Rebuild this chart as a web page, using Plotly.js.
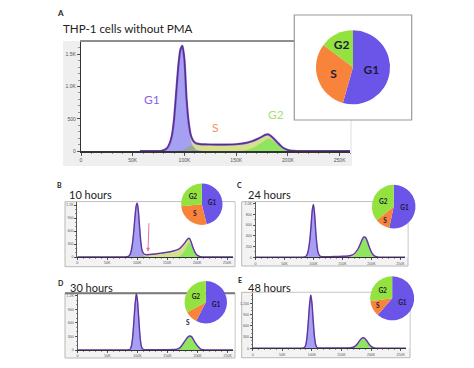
<!DOCTYPE html>
<html><head><meta charset="utf-8">
<script src="https://cdn.plot.ly/plotly-3.0.1.min.js"></script>
<style>html,body{margin:0;padding:0;background:#fff}#chart{width:474px;height:368px}</style>
</head><body><div id="chart"></div>
<script>
// ---------- DATA ----------
// DNA content grid (thousands)
const dnaK = [0, 57, 78, 83, 86, 88, 90, 92, 94, 96, 98, 100, 102, 104, 106, 108, 111, 115, 120, 130, 140, 150, 160, 166, 171, 175, 178, 181, 184, 187, 190, 193, 196, 200, 205, 212, 230, 262];
const xTickVals = [0, 50, 100, 150, 200, 250];
const xTickText = ['0', '50K', '100K', '150K', '200K', '250K'];

// Panel A: THP-1 cells without PMA
const aG1 = [null, 0, 3, 40, 130, 250, 500, 900, 1300, 1560, 1620, 1380, 760, 380, 170, 80, 20, 3, 0, 0, 0, 0, 0, 0, 0, 0, 0, 0, 0, 0, 0, 0, 0, 0, 0, 0, 0, 0];
const aS  = [null, 0, 0, 0, 0, 0, 0, 0, 2, 5, 12, 28, 50, 70, 82, 90, 100, 103, 102, 100, 100, 105, 112, 110, 100, 88, 78, 66, 52, 38, 25, 14, 6, 2, 0, 0, 0, 0];
const aG2 = [null, 0, 0, 0, 0, 0, 0, 0, 0, 0, 0, 0, 0, 0, 0, 0, 0, 0, 0, 0, 0, 0, 15, 45, 90, 135, 172, 192, 175, 142, 105, 68, 38, 13, 3, 0, 0, 0];
// Panel B: 10 hours
const bG1 = [0, 0, 0, 5, 20, 60, 150, 320, 580, 900, 1170, 1240, 1020, 640, 300, 110, 25, 3, 0, 0, 0, 0, 0, 0, 0, 0, 0, 0, 0, 0, 0, 0, 0, 0, 0, 0, 0, 0];
const bS  = [0, 0, 0, 0, 0, 0, 0, 0, 0, 2, 5, 10, 15, 20, 30, 38, 44, 50, 58, 72, 90, 110, 140, 160, 175, 180, 175, 155, 125, 95, 65, 40, 20, 8, 2, 0, 0, 0];
const bG2 = [0, 0, 0, 0, 0, 0, 0, 0, 0, 0, 0, 0, 0, 0, 0, 0, 0, 0, 0, 0, 0, 0, 0, 5, 25, 80, 130, 210, 295, 335, 270, 170, 95, 30, 6, 0, 0, 0];
// Panel C: 24 hours
const cG1 = [0, 0, 0, 3, 10, 30, 80, 180, 350, 600, 880, 980, 800, 480, 220, 80, 15, 2, 0, 0, 0, 0, 0, 0, 0, 0, 0, 0, 0, 0, 0, 0, 0, 0, 0, 0, 0, 0];
const cS  = [0, 0, 0, 0, 0, 0, 0, 0, 0, 0, 0, 2, 4, 5, 8, 10, 10, 10, 10, 12, 15, 18, 25, 30, 35, 38, 38, 35, 30, 22, 15, 8, 4, 1, 0, 0, 0, 0];
const cG2 = [0, 0, 0, 0, 0, 0, 0, 0, 0, 0, 0, 0, 0, 0, 0, 0, 0, 0, 0, 0, 0, 0, 0, 8, 35, 85, 140, 215, 300, 355, 355, 290, 200, 95, 25, 2, 0, 0];
// Panel D: 30 hours
const dG1 = [0, 0, 0, 2, 5, 25, 100, 300, 650, 1020, 1250, 1080, 700, 320, 100, 25, 3, 0, 0, 0, 0, 0, 0, 0, 0, 0, 0, 0, 0, 0, 0, 0, 0, 0, 0, 0, 0, 0];
const dS  = [0, 0, 0, 0, 0, 0, 0, 0, 0, 0, 0, 1, 2, 3, 4, 5, 5, 5, 5, 6, 7, 8, 10, 12, 14, 14, 13, 12, 10, 8, 6, 4, 2, 1, 0, 0, 0, 0];
const dG2 = [0, 0, 0, 0, 0, 0, 0, 0, 0, 0, 0, 0, 0, 0, 0, 0, 0, 0, 0, 0, 0, 0, 0, 8, 40, 110, 170, 230, 280, 305, 290, 230, 160, 90, 18, 2, 0, 0];
// Panel E: 48 hours
const eG1 = [0, 0, 0, 2, 8, 30, 110, 330, 720, 1150, 1420, 1220, 780, 360, 120, 30, 4, 0, 0, 0, 0, 0, 0, 0, 0, 0, 0, 0, 0, 0, 0, 0, 0, 0, 0, 0, 0, 0];
const eS  = [0, 0, 0, 0, 0, 0, 0, 0, 0, 0, 0, 1, 2, 3, 5, 6, 6, 6, 6, 7, 8, 9, 11, 13, 14, 14, 13, 12, 10, 8, 6, 4, 2, 1, 0, 0, 0, 0];
const eG2 = [0, 0, 0, 0, 0, 0, 0, 0, 0, 0, 0, 0, 0, 0, 0, 0, 0, 0, 0, 0, 0, 0, 0, 5, 20, 70, 130, 200, 255, 275, 250, 190, 120, 50, 12, 1, 0, 0];

// Pie charts (% of cells)
const phases = ['G1', 'S', 'G2'];
const pieA = [54.4, 30.9, 14.7];
const pieB = [46.2, 27.2, 26.6];
const pieC = [53.3, 10.9, 35.8];
const pieD = [57.5, 9.6, 32.9];
const pieE = [61.4, 11.5, 27.1];

const yTicksA = [0, 500, 1000, 1500], yTextA = ['0', '500', '1.0K', '1.5K'];
const yTicksB = [0, 300, 600, 900, 1200], yTextB = ['0', '300', '600', '900', '1.2K'];
const yTicksC = [0, 200, 400, 600, 800, 1000], yTextC = ['0', '200', '400', '600', '800', '1.0K'];
const yTicksD = [0, 300, 600, 900, 1200], yTextD = ['0', '300', '600', '900', '1.2K'];
const yTicksE = [0, 300, 600, 900, 1200], yTextE = ['0', '300', '600', '900', '1,200'];

// ---------- LAYOUT HELPERS ----------
const W = 474, H = 368;
const px = v => v / W;
const py = v => 1 - v / H;

const sumArr = (a, b, c) => a.map((v, i) => v == null ? null : v + b[i] + c[i]);
const minArr = (a, b) => a.map((v, i) => v == null ? null : Math.min(v, b[i]));

const COL = {
  sFill: '#d5e08f', g2Fill: '#8fe65e', g1Fill: '#a6a0f3', ovFill: '#9ca59b',
  outline: '#7f46da', black: '#2a2a2a',
  pieG1: '#6b54e8', pieS: '#f7843a', pieG2: '#93e23f'
};

const traces = [];
function addHist(g1, s, g2, xa, ya, lw) {
  const total = sumArr(g1, s, g2);
  const ov = minArr(g1, s);
  const base = {x: dnaK, type: 'scatter', mode: 'lines', xaxis: xa, yaxis: ya, hoverinfo: 'skip', showlegend: false};
  const sp = {shape: 'spline', smoothing: 0.5};
  traces.push(Object.assign({}, base, {y: total, fill: 'tozeroy', fillcolor: COL.sFill, line: Object.assign({width: 0}, sp)}));
  traces.push(Object.assign({}, base, {y: g2, fill: 'tozeroy', fillcolor: COL.g2Fill, line: Object.assign({width: 0}, sp)}));
  traces.push(Object.assign({}, base, {y: g1, fill: 'tozeroy', fillcolor: COL.g1Fill, line: Object.assign({width: 0}, sp)}));
  traces.push(Object.assign({}, base, {y: ov, fill: 'tozeroy', fillcolor: COL.ovFill, line: Object.assign({width: 0}, sp)}));
  traces.push(Object.assign({}, base, {y: total, line: Object.assign({width: lw, color: COL.outline}, sp)}));
  traces.push(Object.assign({}, base, {y: total, line: Object.assign({width: lw * 0.3, color: COL.black}, sp)}));
}
addHist(aG1, aS, aG2, 'x', 'y', 2.2);
addHist(bG1, bS, bG2, 'x2', 'y2', 1.5);
addHist(cG1, cS, cG2, 'x3', 'y3', 1.5);
addHist(dG1, dS, dG2, 'x4', 'y4', 1.5);
addHist(eG1, eS, eG2, 'x5', 'y5', 1.5);

function addPie(vals, cx, cy, r, fs, texts) {
  traces.push({
    type: 'pie', values: vals, labels: phases, text: texts || phases, textinfo: 'text',
    sort: false, direction: 'clockwise', rotation: 0,
    marker: {colors: [COL.pieG1, COL.pieS, COL.pieG2], line: {width: 0}},
    domain: {x: [px(cx - r), px(cx + r)], y: [py(cy + r), py(cy - r)]},
    textposition: 'inside', insidetextorientation: 'horizontal',
    insidetextfont: {size: fs, color: '#1c1a36', family: 'Lato', weight: 'bold'},
    hoverinfo: 'skip', showlegend: false
  });
}
addPie(pieA, 353, 67.3, 37, 12);
addPie(pieB, 201.8, 204.2, 20.7, 6.5);
addPie(pieC, 393.7, 206.6, 21.8, 6.5);
addPie(pieD, 205.8, 302.2, 21.2, 6.5, ['G1', '', 'G2']);
addPie(pieE, 392.2, 298.3, 22, 6.5);

function xAx(d0, d1, maxK, fs, anchor, lw) {
  return {domain: [px(d0), px(d1)], range: [0, maxK], anchor: anchor,
    tickmode: 'array', tickvals: xTickVals, ticktext: xTickText,
    ticks: 'outside', ticklen: fs * 0.6, tickwidth: 0.8, tickcolor: '#333',
    minor: {ticks: 'outside', ticklen: fs * 0.3, dtick: 10, tick0: 0, tickcolor: '#555', tickwidth: 0.6},
    showline: true, linecolor: '#333', linewidth: lw, showgrid: false, zeroline: false,
    tickfont: {size: fs, color: '#555', family: 'Liberation Sans'}, fixedrange: true};
}
function yAx(top, bottom, maxY, tv, tt, fs, anchor, minorD, lw) {
  return {domain: [py(bottom), py(top)], range: [0, maxY], anchor: anchor,
    tickmode: 'array', tickvals: tv, ticktext: tt,
    ticks: 'outside', ticklen: fs * 0.6, tickwidth: 0.8, tickcolor: '#333',
    minor: {ticks: 'outside', ticklen: fs * 0.3, dtick: minorD, tick0: 0, tickcolor: '#555', tickwidth: 0.6},
    showline: true, linecolor: '#333', linewidth: lw, showgrid: false, zeroline: false,
    tickfont: {size: fs, color: '#555', family: 'Liberation Sans'}, fixedrange: true};
}

const rect = (x0, y0, x1, y1, fill, lc, lw) => ({type: 'rect', xref: 'paper', yref: 'paper', layer: 'below',
  x0: px(x0), x1: px(x1), y0: py(y1), y1: py(y0), fillcolor: fill, line: {color: lc || fill, width: lw || 0}});
const hline = (x0, x1, y, c, w) => ({type: 'line', xref: 'paper', yref: 'paper', layer: 'below',
  x0: px(x0), x1: px(x1), y0: py(y), y1: py(y), line: {color: c, width: w}});

const shapes = [
  rect(63, 41, 352, 166, '#efefef'),
  rect(80.5, 41.5, 350, 151, '#ffffff'),
  hline(80, 294, 41, '#6a6a6a', 1.5),
  rect(294.3, 15, 411.7, 120, '#ffffff', '#9a9a9a', 1.2),
  rect(65, 201.7, 235, 266.7, '#f3f3f3', '#b8b8b8', 1),
  rect(77, 202.2, 234.5, 257, '#ffffff'),
  rect(241.7, 201.7, 408, 266, '#f3f3f3', '#b8b8b8', 1),
  rect(255, 202.2, 407.5, 257.3, '#ffffff'),
  rect(65, 293, 235, 358, '#f3f3f3', '#b8b8b8', 1),
  rect(76.7, 293.5, 234.5, 350, '#ffffff'),
  hline(65, 235, 293.3, '#7a7a7a', 2),
  rect(241.7, 292.3, 410, 357.7, '#f3f3f3', '#b8b8b8', 1),
  rect(252.7, 292.8, 409.5, 348.3, '#ffffff')
];

const ann = (x, y, text, size, color, opts) => Object.assign({xref: 'paper', yref: 'paper', x: px(x), y: py(y),
  text: text, showarrow: false, xanchor: 'left', yanchor: 'middle',
  font: {size: size, color: color, family: 'Lato'}}, opts || {});

const annotations = [
  ann(55, 13, '<b>A</b>', 8, '#222'),
  ann(61, 29, 'THP-1 cells without PMA', 11.6, '#222'),
  ann(152.3, 99.3, 'G1', 12, '#8a62ee', {xanchor: 'center'}),
  ann(215, 127.7, 'S', 12, '#f2925a', {xanchor: 'center'}),
  ann(276, 114.3, 'G2', 12, '#a9df72', {xanchor: 'center'}),
  ann(55, 185, '<b>B</b>', 7, '#222'),
  ann(235, 185, '<b>C</b>', 7, '#222'),
  ann(55.5, 283.3, '<b>D</b>', 7, '#222'),
  ann(236, 280, '<b>E</b>', 7, '#222'),
  ann(67, 194, '10 hours', 11, '#222'),
  ann(246, 194, '24 hours', 11, '#222'),
  ann(68, 287.7, '30 hours', 11, '#222'),
  ann(245.7, 287.7, '48 hours', 11, '#222'),
  ann(187.7, 322.3, '<b>S</b>', 6.5, '#1c1a36', {xanchor: 'center'}),
  {xref: 'paper', yref: 'paper', x: px(148), y: py(251.7), ax: 1, ay: -30, text: '', showarrow: true,
   arrowhead: 2, arrowsize: 0.8, arrowwidth: 1, arrowcolor: '#e8759a'}
];

const layout = {
  width: W, height: H, autosize: false, margin: {l: 0, r: 0, t: 0, b: 0},
  paper_bgcolor: '#ffffff', plot_bgcolor: '#ffffff', showlegend: false,
  xaxis: xAx(81, 350, 260, 5, 'y', 1.5),
  yaxis: yAx(42, 151, 1690, yTicksA, yTextA, 5, 'x', 100, 1.2),
  xaxis2: xAx(77.3, 233, 259.5, 3.6, 'y2', 1),
  yaxis2: yAx(202.2, 257, 1270, yTicksB, yTextB, 3.6, 'x2', 100, 0.8),
  xaxis3: xAx(255.5, 405, 258, 3.6, 'y3', 1),
  yaxis3: yAx(202.2, 257.3, 1025, yTicksC, yTextC, 3.6, 'x3', 100, 0.8),
  xaxis4: xAx(77.5, 233, 259, 3.6, 'y4', 1),
  yaxis4: yAx(293.5, 350, 1255, yTicksD, yTextD, 3.6, 'x4', 100, 0.8),
  xaxis5: xAx(252.7, 406, 259, 3.6, 'y5', 1),
  yaxis5: yAx(292.8, 348.3, 1480, yTicksE, yTextE, 3.6, 'x5', 100, 0.8),
  shapes: shapes,
  annotations: annotations
};

Plotly.newPlot('chart', traces, layout, {displayModeBar: false, staticPlot: true});
</script>
</body></html>
